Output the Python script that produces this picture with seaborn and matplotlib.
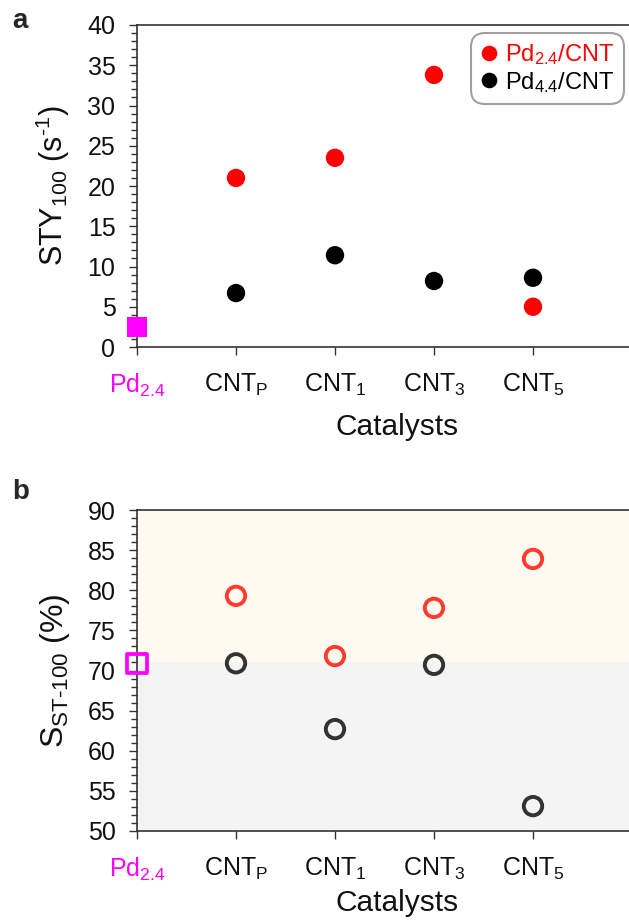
import matplotlib
matplotlib.use("Agg")
import matplotlib.pyplot as plt
from matplotlib.ticker import MultipleLocator
import seaborn as sns
import pandas as pd

sns.set_style("white")
plt.rcParams['font.family'] = ['Liberation Sans', 'DejaVu Sans']
plt.rcParams['mathtext.fontset'] = 'custom'
plt.rcParams['mathtext.rm'] = 'Liberation Sans'
plt.rcParams['mathtext.it'] = 'Liberation Sans:italic'
plt.rcParams['mathtext.bf'] = 'Liberation Sans:bold'

# ---- data ----
categories = ["Pd2.4", "CNTP", "CNT1", "CNT3", "CNT5"]
tick_labels = [r"Pd$_{\mathrm{2.4}}$", r"CNT$_{\mathrm{P}}$", r"CNT$_{\mathrm{1}}$",
               r"CNT$_{\mathrm{3}}$", r"CNT$_{\mathrm{5}}$"]
cnt_categories = ["CNTP", "CNT1", "CNT3", "CNT5"]
series_names = [r"Pd$_{\mathrm{2.4}}$/CNT", r"Pd$_{\mathrm{4.4}}$/CNT"]

pd_only_sty = [2.5]
sty_pd24 = [21.0, 23.5, 33.8, 5.0]
sty_pd44 = [6.7, 11.4, 8.2, 8.6]

pd_only_sel = [70.9]
sel_pd24 = [79.3, 71.8, 77.8, 83.9]
sel_pd44 = [70.9, 62.7, 70.7, 53.1]
sel_boundary = 71.0

red = "#FF0000"
red_open = "#FF3B30"
black = "#000000"
dark = "#333333"
magenta = "#FF00FF"

fig = plt.figure(figsize=(6.29, 9.24), dpi=100)
W, H = 629, 924
axA = fig.add_axes([137 / W, 1 - 347 / H, 495 / W, 322 / H])
axB = fig.add_axes([137 / W, 1 - 831 / H, 495 / W, 321 / H])


def style_axes(ax, ylim, ylabel, xlab_y, ylab_size):
    ax.set_xlim(0, 5)
    ax.set_ylim(*ylim)
    ax.yaxis.set_major_locator(MultipleLocator(5))
    ax.yaxis.set_minor_locator(MultipleLocator(1))
    ax.set_xticks(range(len(categories)))
    ax.set_xticklabels(tick_labels)
    ax.tick_params(axis='y', which='major', direction='out', length=5.5, width=1,
                   color=dark, labelsize=18, left=True, pad=10, labelcolor="#111111")
    ax.tick_params(axis='y', which='minor', direction='out', length=4, width=1,
                   color=dark, left=True)
    ax.tick_params(axis='x', which='major', direction='out', length=6, width=1,
                   color=dark, labelsize=18, bottom=True, pad=12, labelcolor="#111111")
    ax.get_xticklabels()[0].set_color(magenta)
    for s in ['left', 'bottom', 'top']:
        ax.spines[s].set_color(dark)
        ax.spines[s].set_linewidth(1.2)
    ax.spines['right'].set_visible(False)
    ax.set_xlabel("Catalysts", fontsize=21.5, color="#111111")
    ax.set_ylabel(ylabel, fontsize=ylab_size, color="#111111")
    ax.xaxis.set_label_coords(0.525, xlab_y)
    ax.yaxis.set_label_coords(-0.131, 0.5)


# ---- panel a ----
dfA = pd.DataFrame({
    "cat": cnt_categories * 2,
    "val": sty_pd24 + sty_pd44,
    "series": [series_names[0]] * 4 + [series_names[1]] * 4,
})
sns.scatterplot(data=pd.DataFrame({"cat": [categories[0]], "val": pd_only_sty}),
                x="cat", y="val", marker="s", s=200, color=magenta,
                edgecolor=magenta, linewidth=0, ax=axA, clip_on=False, zorder=4)
sns.scatterplot(data=dfA, x="cat", y="val", hue="series",
                palette={series_names[0]: red, series_names[1]: black},
                s=175, linewidth=0, ax=axA, zorder=3, legend=True)
style_axes(axA, (0, 40), r"STY$_{\mathrm{100}}$ (s$^{\text{-1}}$)", -0.205, 22)
leg = axA.legend(loc="upper right", fontsize=17, frameon=True, fancybox=True,
                 handletextpad=0.3, borderpad=0.4, labelspacing=0.1,
                 handlelength=0.75, markerscale=0.85, borderaxespad=0,
                 bbox_to_anchor=(0.984, 0.975))
leg.get_frame().set_edgecolor("#888888")
leg.get_frame().set_linewidth(1.5)
leg.get_frame().set_boxstyle("round,pad=0,rounding_size=0.6")
for t, c in zip(leg.get_texts(), [red, black]):
    t.set_color(c)

# ---- panel b ----
axB.axhspan(sel_boundary, 90, color="#FFFAEF", zorder=0, lw=0)
axB.axhspan(50, sel_boundary, color="#F4F4F4", zorder=0, lw=0)
dfB = pd.DataFrame({
    "cat": cnt_categories * 2,
    "val": sel_pd24 + sel_pd44,
    "series": [series_names[0]] * 4 + [series_names[1]] * 4,
})
sns.scatterplot(data=pd.DataFrame({"cat": [categories[0]], "val": pd_only_sel}),
                x="cat", y="val", marker="s", s=190, facecolor="none",
                edgecolor=magenta, linewidth=2.7, ax=axB, clip_on=False, zorder=4)
for name, col in zip(series_names, [red_open, dark]):
    sub = dfB[dfB["series"] == name]
    sns.scatterplot(data=sub, x="cat", y="val", s=175, facecolor="none",
                    edgecolor=col, linewidth=2.8, ax=axB, zorder=3, legend=False)
style_axes(axB, (50, 90), r"S$_{\mathrm{ST\text{-}100}}$ (%)", -0.18, 23)

fig.text(12 / W, 1 - 21 / H, "a", fontsize=20, fontweight="bold", va="center")
fig.text(12 / W, 1 - 492 / H, "b", fontsize=20, fontweight="bold", va="center")

fig.savefig("out.png", dpi=100)
